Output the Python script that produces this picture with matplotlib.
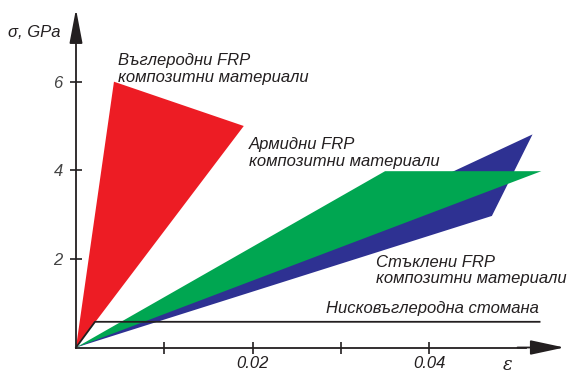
import matplotlib.pyplot as plt

# strain / stress polygons (eps in -, sigma in GPa)
carbon_eps = [0, 0.0043, 0.0190]
carbon_sig = [0, 6.0, 5.0]
blue_eps = [0, 0.0517, 0.0471]
blue_sig = [0, 4.81, 2.97]
green_eps = [0, 0.0350, 0.0527]
green_sig = [0, 3.98, 3.98]
steel_eps = [0, 0.00215, 0.0525]
steel_sig = [0, 0.58, 0.58]

xticks = [0.01, 0.02, 0.03, 0.04]
xticklabels = ['', '0.02', '', '0.04']
yticks = [2, 4, 6]
yticklabels = ['2', '4', '6']

ink = '#231f20'
plt.rcParams['font.family'] = ['Liberation Sans', 'DejaVu Sans']

fig = plt.figure(figsize=(5.68, 3.73), dpi=100)
ax = fig.add_axes([0, 0, 1, 1])
ax.set_xlim(-76 / 8830, (568 - 76) / 8830)
ax.set_ylim((347.5 - 373) / 44.3, 347.5 / 44.3)

ax.fill(carbon_eps, carbon_sig, color='#ed1c24', lw=0)
ax.fill(blue_eps, blue_sig, color='#2e3192', lw=0)
ax.fill(green_eps, green_sig, color='#00a651', lw=0)
ax.plot(steel_eps, steel_sig, color=ink, lw=1.3)

for s in ['top', 'right']:
    ax.spines[s].set_visible(False)
ax.spines['left'].set_position(('data', 0))
ax.spines['bottom'].set_position(('data', 0))
ax.spines['left'].set_bounds(0, 7.2)
ax.spines['bottom'].set_bounds(0, 0.051)
for s in ['left', 'bottom']:
    ax.spines[s].set_color(ink)
    ax.spines[s].set_linewidth(1.3)

ax.set_xticks(xticks)
ax.set_xticklabels(xticklabels, fontsize=12, style='italic', color=ink)
ax.set_yticks(yticks)
ax.set_yticklabels(yticklabels, fontsize=12, style='italic', color='#444444')
ax.tick_params(direction='inout', length=9, width=1.2, color=ink)
ax.tick_params(axis='x', pad=1.5)
ax.tick_params(axis='y', pad=5)

# axis arrows
ax.annotate('', xy=(0, 7.64), xytext=(0, 7.0),
            arrowprops=dict(arrowstyle='-|>,head_length=2.1,head_width=0.4',
                            mutation_scale=10, color=ink, lw=1.3, shrinkA=0, shrinkB=0))
ax.annotate('', xy=(0.0553, 0), xytext=(0.050, 0),
            arrowprops=dict(arrowstyle='-|>,head_length=2.1,head_width=0.45',
                            mutation_scale=10, color=ink, lw=1.3, shrinkA=0, shrinkB=0))

ax.text(-0.0077, 7.10, 'σ, GPa', fontsize=12, style='italic', color=ink, va='center')
ax.text(0.0489, -0.40, 'ε', fontsize=13, style='italic', color=ink,
        va='center', ha='center', family='DejaVu Serif')

lab = dict(fontsize=12, style='italic', color=ink, va='baseline')
ax.text(0.00476, 6.377, 'Въглеродни FRP', **lab)
ax.text(0.00476, 5.993, 'композитни материали', **lab)
ax.text(0.0196, 4.481, 'Армидни FRP', **lab)
ax.text(0.0196, 4.108, 'композитни материали', **lab)
ax.text(0.0340, 1.824, 'Стъклени FRP', **lab)
ax.text(0.0340, 1.449, 'композитни материали', **lab)
ax.text(0.0283, 0.779, 'Нисковъглеродна стомана', **lab)

fig.savefig('out.png', dpi=100)
